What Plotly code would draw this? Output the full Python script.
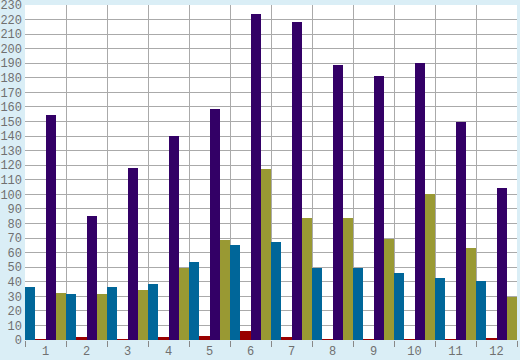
import plotly.graph_objects as go

categories = ["1", "2", "3", "4", "5", "6", "7", "8", "9", "10", "11", "12"]
blue = [36.5, 31.5, 36.5, 38.5, 53.5, 65, 67, 49.5, 49.5, 46, 42.5, 40.5]
red = [0.5, 2, 0.5, 2, 2.5, 6, 2, 0.5, 0.5, 0.5, 0.5, 1.5]
purple = [154.5, 85, 118, 140, 158.5, 224, 218, 189, 181, 190, 150, 104.5]
olive = [32.5, 31.5, 34, 49.5, 68.5, 117.5, 84, 84, 69.5, 100, 63, 29.5]
y_ticks = list(range(0, 231, 10))

x = list(range(1, len(categories) + 1))
series = [("blue", blue, "#006699"), ("red", red, "#990000"),
          ("purple", purple, "#330066"), ("olive", olive, "#999933")]

fig = go.Figure()
for name, vals, col in series:
    fig.add_trace(go.Bar(x=x, y=vals, name=name, marker=dict(color=col, line=dict(width=0))))

font = dict(family="Liberation Mono", size=12, color="#707070")
fig.update_layout(
    width=520, height=360,
    margin=dict(l=25, r=3, t=5, b=20, autoexpand=False),
    paper_bgcolor="#DAEEF6", plot_bgcolor="#FFFFFF",
    barmode="group", bargap=0, bargroupgap=0,
    showlegend=False,
    font=font,
    xaxis=dict(range=[0.5, 12.5], tickvals=x, ticktext=categories, ticks="",
               showgrid=False, zeroline=False, showline=False, automargin=False,
               tickfont=font, ticklabelstandoff=2, ticklabeloverflow="allow",
               minor=dict(tickvals=[i + 0.5 for i in range(0, 13)], ticks="outside",
                          ticklen=6, tickcolor="#888888", tickwidth=1,
                          showgrid=True, gridcolor="#AAAAAA", gridwidth=1)),
    yaxis=dict(range=[0, 230], tickvals=y_ticks, ticks="", showgrid=True,
               gridcolor="#AAAAAA", gridwidth=1, zeroline=False, showline=False,
               automargin=False, tickfont=font, ticklabelstandoff=2,
               ticklabeloverflow="allow"),
)
fig.write_html("out.html", config={"displayModeBar": False},
               post_script="document.body.style.margin='0';document.body.style.padding='0';"
                           "document.body.style.background='#DAEEF6';")
